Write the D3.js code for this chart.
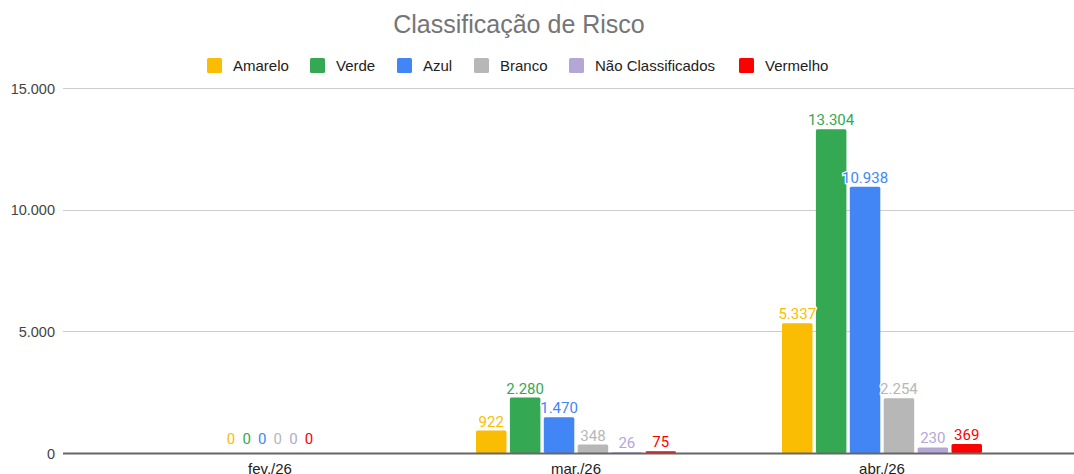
<!DOCTYPE html>
<html><head><meta charset="utf-8">
<script src="https://cdn.jsdelivr.net/npm/d3@7"></script>
<style>body{margin:0;background:#fff}</style>
</head><body>
<svg id="c" width="1074" height="474"></svg>
<script>
const months = ["fev./26", "mar./26", "abr./26"];
const seriesNames = ["Amarelo", "Verde", "Azul", "Branco", "Não Classificados", "Vermelho"];
const amarelo = [0, 922, 5337];
const verde = [0, 2280, 13304];
const azul = [0, 1470, 10938];
const branco = [0, 348, 2254];
const naoClass = [0, 26, 230];
const vermelho = [0, 75, 369];
const yTicks = [0, 5000, 10000, 15000];
const colors = ["#fbbc04", "#34a853", "#4285f4", "#b7b7b7", "#b4a7d6", "#ff0000"];

const values = [amarelo, verde, azul, branco, naoClass, vermelho];
const svg = d3.select("#c");
const fmt = v => d3.format(",")(v).replace(/,/g, ".");
const FONT = "Liberation Sans, Arial, sans-serif";

const y = d3.scaleLinear().domain([0, 15000]).range([453, 88]);
const x0 = d3.scaleBand().domain(months).range([117, 1035]);
const x1 = d3.scaleBand().domain(seriesNames).range([0, 200]).paddingInner(0.1);
const xZero = d3.scaleBand().domain(seriesNames).range([0, 92]).paddingInner(0.1);

// title
svg.append("text").attr("x", 519).attr("y", 33).attr("text-anchor", "middle")
  .attr("font-family", FONT).attr("font-size", 25)
  .attr("fill", "#757575").text("Classificação de Risco");

// legend
const legX = [207, 310, 397, 474, 569, 739];
seriesNames.forEach((s, i) => {
  svg.append("rect").attr("x", legX[i]).attr("y", 58).attr("width", 15).attr("height", 15)
    .attr("rx", 1.5).attr("fill", colors[i]);
  svg.append("text").attr("x", legX[i] + 26).attr("y", 70.5)
    .attr("font-family", FONT).attr("font-size", 15)
    .attr("fill", "#222").text(s);
});

// grid
const yAxis = d3.axisLeft(y).tickValues(yTicks).tickFormat(fmt).tickSize(0).tickPadding(8);
const gy = svg.append("g").attr("transform", "translate(63,0)").call(yAxis);
gy.select(".domain").remove();
gy.selectAll("text").attr("font-family", FONT).attr("font-size", 14.5).attr("fill", "#444").attr("dy", "0.35em");
svg.append("g").selectAll("line").data(yTicks.filter(t => t > 0)).join("line")
  .attr("x1", 63).attr("x2", 1074).attr("y1", d => Math.round(y(d)) + 0.5).attr("y2", d => Math.round(y(d)) + 0.5)
  .attr("stroke", "#cccccc").attr("stroke-width", 1);

// bars
months.forEach((m, mi) => {
  const gx = x0(m) + x0.bandwidth() / 2 - 100;
  seriesNames.forEach((s, si) => {
    const v = values[si][mi];
    const bx = gx + x1(s);
    if (v > 0) {
      svg.append("rect").attr("x", bx).attr("y", y(v)).attr("width", x1.bandwidth())
        .attr("height", y(0) - y(v)).attr("rx", 1.5).attr("fill", colors[si]);
    }
  });
});

// baseline
svg.append("line").attr("x1", 63).attr("x2", 1074).attr("y1", 453.5).attr("y2", 453.5)
  .attr("stroke", "#666").attr("stroke-width", 2);

// labels
months.forEach((m, mi) => {
  const allZero = values.every(arr => arr[mi] === 0);
  seriesNames.forEach((s, si) => {
    const v = values[si][mi];
    let bx;
    if (allZero) bx = x0(m) + x0.bandwidth() / 2 - 46 + xZero(s) + xZero.bandwidth() / 2;
    else bx = x0(m) + x0.bandwidth() / 2 - 100 + x1(s) + x1.bandwidth() / 2;
    svg.append("text").attr("x", bx).attr("y", y(v) - (v === 0 ? 9 : 4)).attr("text-anchor", "middle")
      .attr("font-family", "Roboto, sans-serif").attr("font-size", 15)
      .attr("fill", colors[si]).attr("stroke", "#fff").attr("stroke-width", 2.5)
      .attr("paint-order", "stroke").text(fmt(v));
  });
});

// x labels
const xAxis = d3.axisBottom(x0).tickSize(0).tickPadding(10);
const gx = svg.append("g").attr("transform", "translate(0,453)").call(xAxis);
gx.select(".domain").remove();
gx.selectAll("text").attr("font-family", FONT).attr("font-size", 15).attr("fill", "#222");
</script>
</body></html>
